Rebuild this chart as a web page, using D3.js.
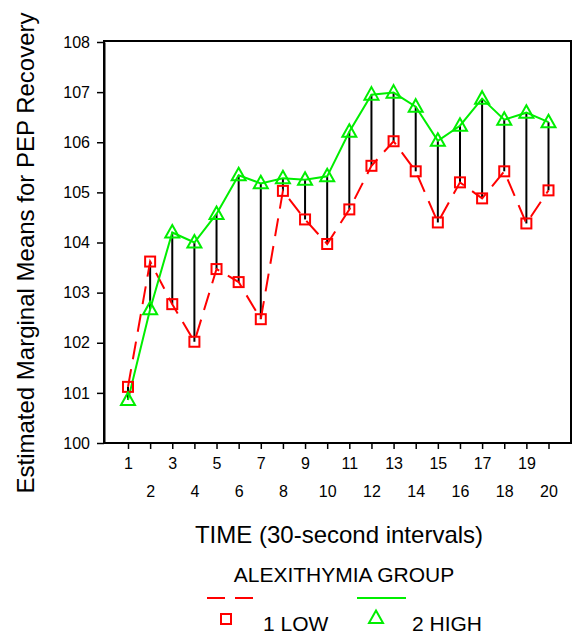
<!DOCTYPE html>
<html>
  <head>
    <meta charset="utf-8">
    <title></title>
  </head>
  <style>
    body{
      margin: 0;
      background-color: #fff;
      font-family: "Liberation Sans", Arial, sans-serif;
    }
    svg { display: block }
  </style>
  <script src="https://d3js.org/d3.v7.min.js"></script>
  <body>
    <script>
    // time points
    const times = [1,2,3,4,5,6,7,8,9,10,11,12,13,14,15,16,17,18,19,20]
    // 1 LOW group
    const lowMeans = [101.12, 103.62, 102.77, 102.02, 103.47, 103.21, 102.47, 105.03, 104.46, 103.97,
                      104.66, 105.53, 106.02, 105.42, 104.40, 105.20, 104.88, 105.42, 104.38, 105.04]
    // 2 HIGH group
    const highMeans = [100.86, 102.67, 104.20, 104.00, 104.57, 105.34, 105.18, 105.28, 105.25, 105.32,
                       106.21, 106.95, 106.99, 106.71, 106.03, 106.33, 106.87, 106.45, 106.59, 106.40]
    const yTicks = [100,101,102,103,104,105,106,107,108]
    const groupLabels = ["1 LOW", "2 HIGH"]

    const W = 573, H = 635
    const frame = { left: 104, top: 41, right: 571, bottom: 443 }
    const red = "#ff0000", green = "#00ee00"

    const svg = d3.select("body").append("svg")
                  .attr("width", W)
                  .attr("height", H)

    const x = d3.scaleLinear().domain([1, 20]).range([128, 548.5])
    const y = d3.scaleLinear().domain([100, 108]).range([frame.bottom, frame.top + 1])

    // frame
    svg.append("rect")
       .attr("x", frame.left).attr("y", frame.top)
       .attr("width", frame.right - frame.left)
       .attr("height", frame.bottom - frame.top)
       .attr("fill", "none")
       .attr("stroke", "#000")
       .attr("stroke-width", 2)

    // y axis
    const yAxis = svg.append("g")
       .attr("transform", `translate(${frame.left},0)`)
       .call(d3.axisLeft(y).tickValues(yTicks).tickSize(7).tickPadding(7).tickSizeOuter(0))
    yAxis.selectAll("text").attr("font-size", 16).attr("font-family", "Liberation Sans, Arial").attr("fill", "#000")
    yAxis.selectAll("line").attr("stroke-width", 1.5)
    yAxis.select(".domain").attr("stroke-width", 2)

    // x axis, odd labels on the first row, even labels on the second
    const xAxis = svg.append("g")
       .attr("transform", `translate(0,${frame.bottom})`)
       .call(d3.axisBottom(x).tickValues(times).tickSize(6).tickSizeOuter(0).tickFormat(d3.format("d")))
    xAxis.select(".domain").remove()
    xAxis.selectAll("line").attr("stroke-width", 1.5)
    xAxis.selectAll("text")
         .attr("font-size", 16).attr("font-family", "Liberation Sans, Arial").attr("fill", "#000")
         .attr("dy", 0)
         .attr("y", d => d % 2 ? 26 : 54)

    // axis titles
    svg.append("text")
       .attr("x", 339).attr("y", 543)
       .attr("text-anchor", "middle")
       .attr("font-size", 24)
       .text("TIME (30-second intervals)")

    svg.append("text")
       .attr("transform", "translate(34,253) rotate(-90)")
       .attr("text-anchor", "middle")
       .attr("font-size", 24)
       .text("Estimated Marginal Means for PEP Recovery")

    // drop lines between groups
    svg.append("g").selectAll("line")
       .data(times)
       .enter().append("line")
       .attr("x1", (d, i) => x(d)).attr("x2", (d, i) => x(d))
       .attr("y1", (d, i) => y(lowMeans[i]))
       .attr("y2", (d, i) => y(highMeans[i]))
       .attr("stroke", "#000")
       .attr("stroke-width", 2)

    const line = d3.line().x((d, i) => x(times[i])).y(d => y(d))

    svg.append("path")
       .attr("d", line(lowMeans))
       .attr("fill", "none")
       .attr("stroke", red)
       .attr("stroke-width", 2)
       .attr("stroke-dasharray", "18,10")

    svg.append("path")
       .attr("d", line(highMeans))
       .attr("fill", "none")
       .attr("stroke", green)
       .attr("stroke-width", 2)

    const sq = 10
    const triPath = "M0,-7.5L7,5L-7,5Z"

    svg.append("g").selectAll("rect")
       .data(lowMeans)
       .enter().append("rect")
       .attr("x", (d, i) => x(times[i]) - sq / 2)
       .attr("y", d => y(d) - sq / 2)
       .attr("width", sq).attr("height", sq)
       .attr("fill", "none")
       .attr("stroke", red)
       .attr("stroke-width", 2)

    svg.append("g").selectAll("path")
       .data(highMeans)
       .enter().append("path")
       .attr("transform", (d, i) => `translate(${x(times[i])},${y(d)})`)
       .attr("d", triPath)
       .attr("fill", "none")
       .attr("stroke", green)
       .attr("stroke-width", 2)

    // legend
    const legend = svg.append("g")
    legend.append("text")
          .attr("x", 344).attr("y", 582)
          .attr("text-anchor", "middle")
          .attr("font-size", 21)
          .text("ALEXITHYMIA GROUP")

    legend.append("line")
          .attr("x1", 207).attr("x2", 255).attr("y1", 598).attr("y2", 598)
          .attr("stroke", red).attr("stroke-width", 2)
          .attr("stroke-dasharray", "18,10")
    legend.append("rect")
          .attr("x", 226 - sq / 2).attr("y", 619 - sq / 2)
          .attr("width", sq).attr("height", sq)
          .attr("fill", "none").attr("stroke", red).attr("stroke-width", 2)
    legend.append("text")
          .attr("x", 263).attr("y", 631)
          .attr("font-size", 21)
          .text(groupLabels[0])

    legend.append("line")
          .attr("x1", 357).attr("x2", 406).attr("y1", 598).attr("y2", 598)
          .attr("stroke", green).attr("stroke-width", 2)
    legend.append("path")
          .attr("transform", "translate(376,618)")
          .attr("d", triPath)
          .attr("fill", "none").attr("stroke", green).attr("stroke-width", 2)
    legend.append("text")
          .attr("x", 412).attr("y", 631)
          .attr("font-size", 21)
          .text(groupLabels[1])
    </script>
  </body>
</html>
